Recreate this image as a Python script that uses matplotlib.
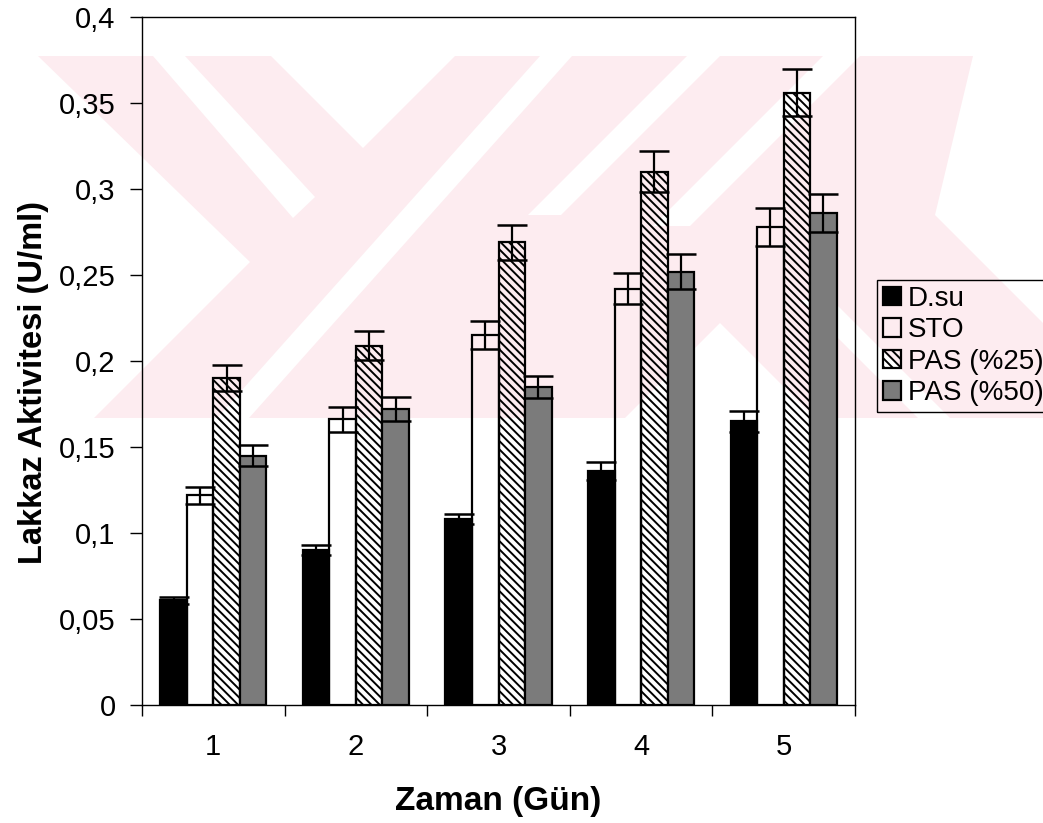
import numpy as np
import matplotlib
matplotlib.use('Agg')
import matplotlib.pyplot as plt

plt.rcParams['font.family'] = ['Liberation Sans', 'DejaVu Sans']
plt.rcParams['hatch.linewidth'] = 1.4

# Lakkaz aktivitesi (U/ml), gunlere gore
days = ['1', '2', '3', '4', '5']
dsu = [0.061, 0.090, 0.108, 0.136, 0.165]
dsu_err = [0.002, 0.003, 0.003, 0.005, 0.006]
sto = [0.122, 0.166, 0.215, 0.242, 0.278]
sto_err = [0.005, 0.007, 0.008, 0.009, 0.011]
pas25 = [0.190, 0.209, 0.269, 0.310, 0.356]
pas25_err = [0.0075, 0.0085, 0.010, 0.012, 0.0135]
pas50 = [0.145, 0.172, 0.185, 0.252, 0.286]
pas50_err = [0.006, 0.007, 0.0065, 0.010, 0.011]

series = ['D.su', 'STO', 'PAS (%25)', 'PAS (%50)']
yticks = [0, 0.05, 0.1, 0.15, 0.2, 0.25, 0.3, 0.35, 0.4]
ytick_labels = ['0', '0,05', '0,1', '0,15', '0,2', '0,25', '0,3', '0,35', '0,4']

W, H = 1043, 823
fig = plt.figure(figsize=(W / 100, H / 100), dpi=100, facecolor='white')

# background watermark, drawn in pixel space behind the chart
bg = fig.add_axes([0, 0, 1, 1], zorder=-1)
bg.set_xlim(0, W)
bg.set_ylim(H, 0)
bg.axis('off')
pink = '#fdecf0'
bg.fill([38, 1043, 1043, 38], [56, 56, 418, 418], color=pink, lw=0)
white_shapes = [
    [(0, 56), (38, 56), (250, 262), (94, 418), (0, 418)],
    [(153, 56), (185, 56), (315, 197), (293, 218)],
    [(271, 56), (455, 56), (363, 148)],
    [(540, 56), (572, 56), (249, 418), (217, 418)],
    [(687, 56), (720, 56), (561, 215), (528, 215)],
    [(823, 56), (860, 56), (690, 226), (653, 226)],
    [(625, 418), (720, 323), (815, 418)],
    [(973, 56), (1043, 56), (1043, 323), (935, 215)],
    [(800, 300), (832, 300), (950, 418), (918, 418)],
]
for shp in white_shapes:
    xs, ys = zip(*shp)
    bg.fill(xs, ys, color='white', lw=0)

ax = fig.add_axes([142 / W, 1 - 705 / H, 713 / W, 688 / H])
ax.set_facecolor('none')

x = np.arange(len(days))
w = 0.186
bar_kw = dict(width=w, edgecolor='black', linewidth=1.6, zorder=2)
b1 = ax.bar(x - 1.5 * w, dsu, color='black', label=series[0], **bar_kw)
b2 = ax.bar(x - 0.5 * w, sto, color='none', label=series[1], **bar_kw)
b3 = ax.bar(x + 0.5 * w, pas25, color='none', hatch='\\\\\\\\', label=series[2], **bar_kw)
b4 = ax.bar(x + 1.5 * w, pas50, color='#7b7b7b', label=series[3], **bar_kw)

err_kw = dict(fmt='none', ecolor='black', elinewidth=1.6, capsize=11, capthick=1.8, zorder=3)
for off, vals, errs in [(-1.5, dsu, dsu_err), (-0.5, sto, sto_err),
                        (0.5, pas25, pas25_err), (1.5, pas50, pas50_err)]:
    ax.errorbar(x + off * w, vals, yerr=errs, **err_kw)

ax.set_xlim(-0.5, len(days) - 0.5)
ax.set_ylim(0, 0.4)
ax.set_yticks(yticks)
ax.set_yticklabels(ytick_labels)
ax.set_xticks(np.arange(len(days) + 1) - 0.5)
ax.set_xticklabels([])
ax.set_xticks(x, minor=True)
ax.set_xticklabels(days, minor=True)
ax.tick_params(axis='x', which='major', length=8, width=1, direction='out')
ax.tick_params(axis='x', which='minor', length=0, labelsize=21, pad=20)
ax.tick_params(axis='y', length=9, width=1, direction='out', labelsize=21, pad=10)
for sp in ax.spines.values():
    sp.set_linewidth(1.0)

ax.set_ylabel('Lakkaz Aktivitesi (U/ml)', fontsize=23.5, fontweight='bold')
ax.yaxis.set_label_coords(-0.13, 0.469)
ax.set_xlabel('Zaman (Gün)', fontsize=24, fontweight='bold', labelpad=18)

leg = fig.legend(handles=[b1, b2, b3, b4], loc='upper left',
                 bbox_to_anchor=(877 / W, 1 - 280 / H), fontsize=20,
                 frameon=True, fancybox=False, framealpha=1, facecolor='none',
                 edgecolor='black', borderpad=0.2, labelspacing=0.2,
                 handlelength=0.65, handleheight=0.65, handletextpad=0.25,
                 borderaxespad=0)
leg.get_frame().set_linewidth(1.0)

fig.savefig('out.png', dpi=100, facecolor='white')
